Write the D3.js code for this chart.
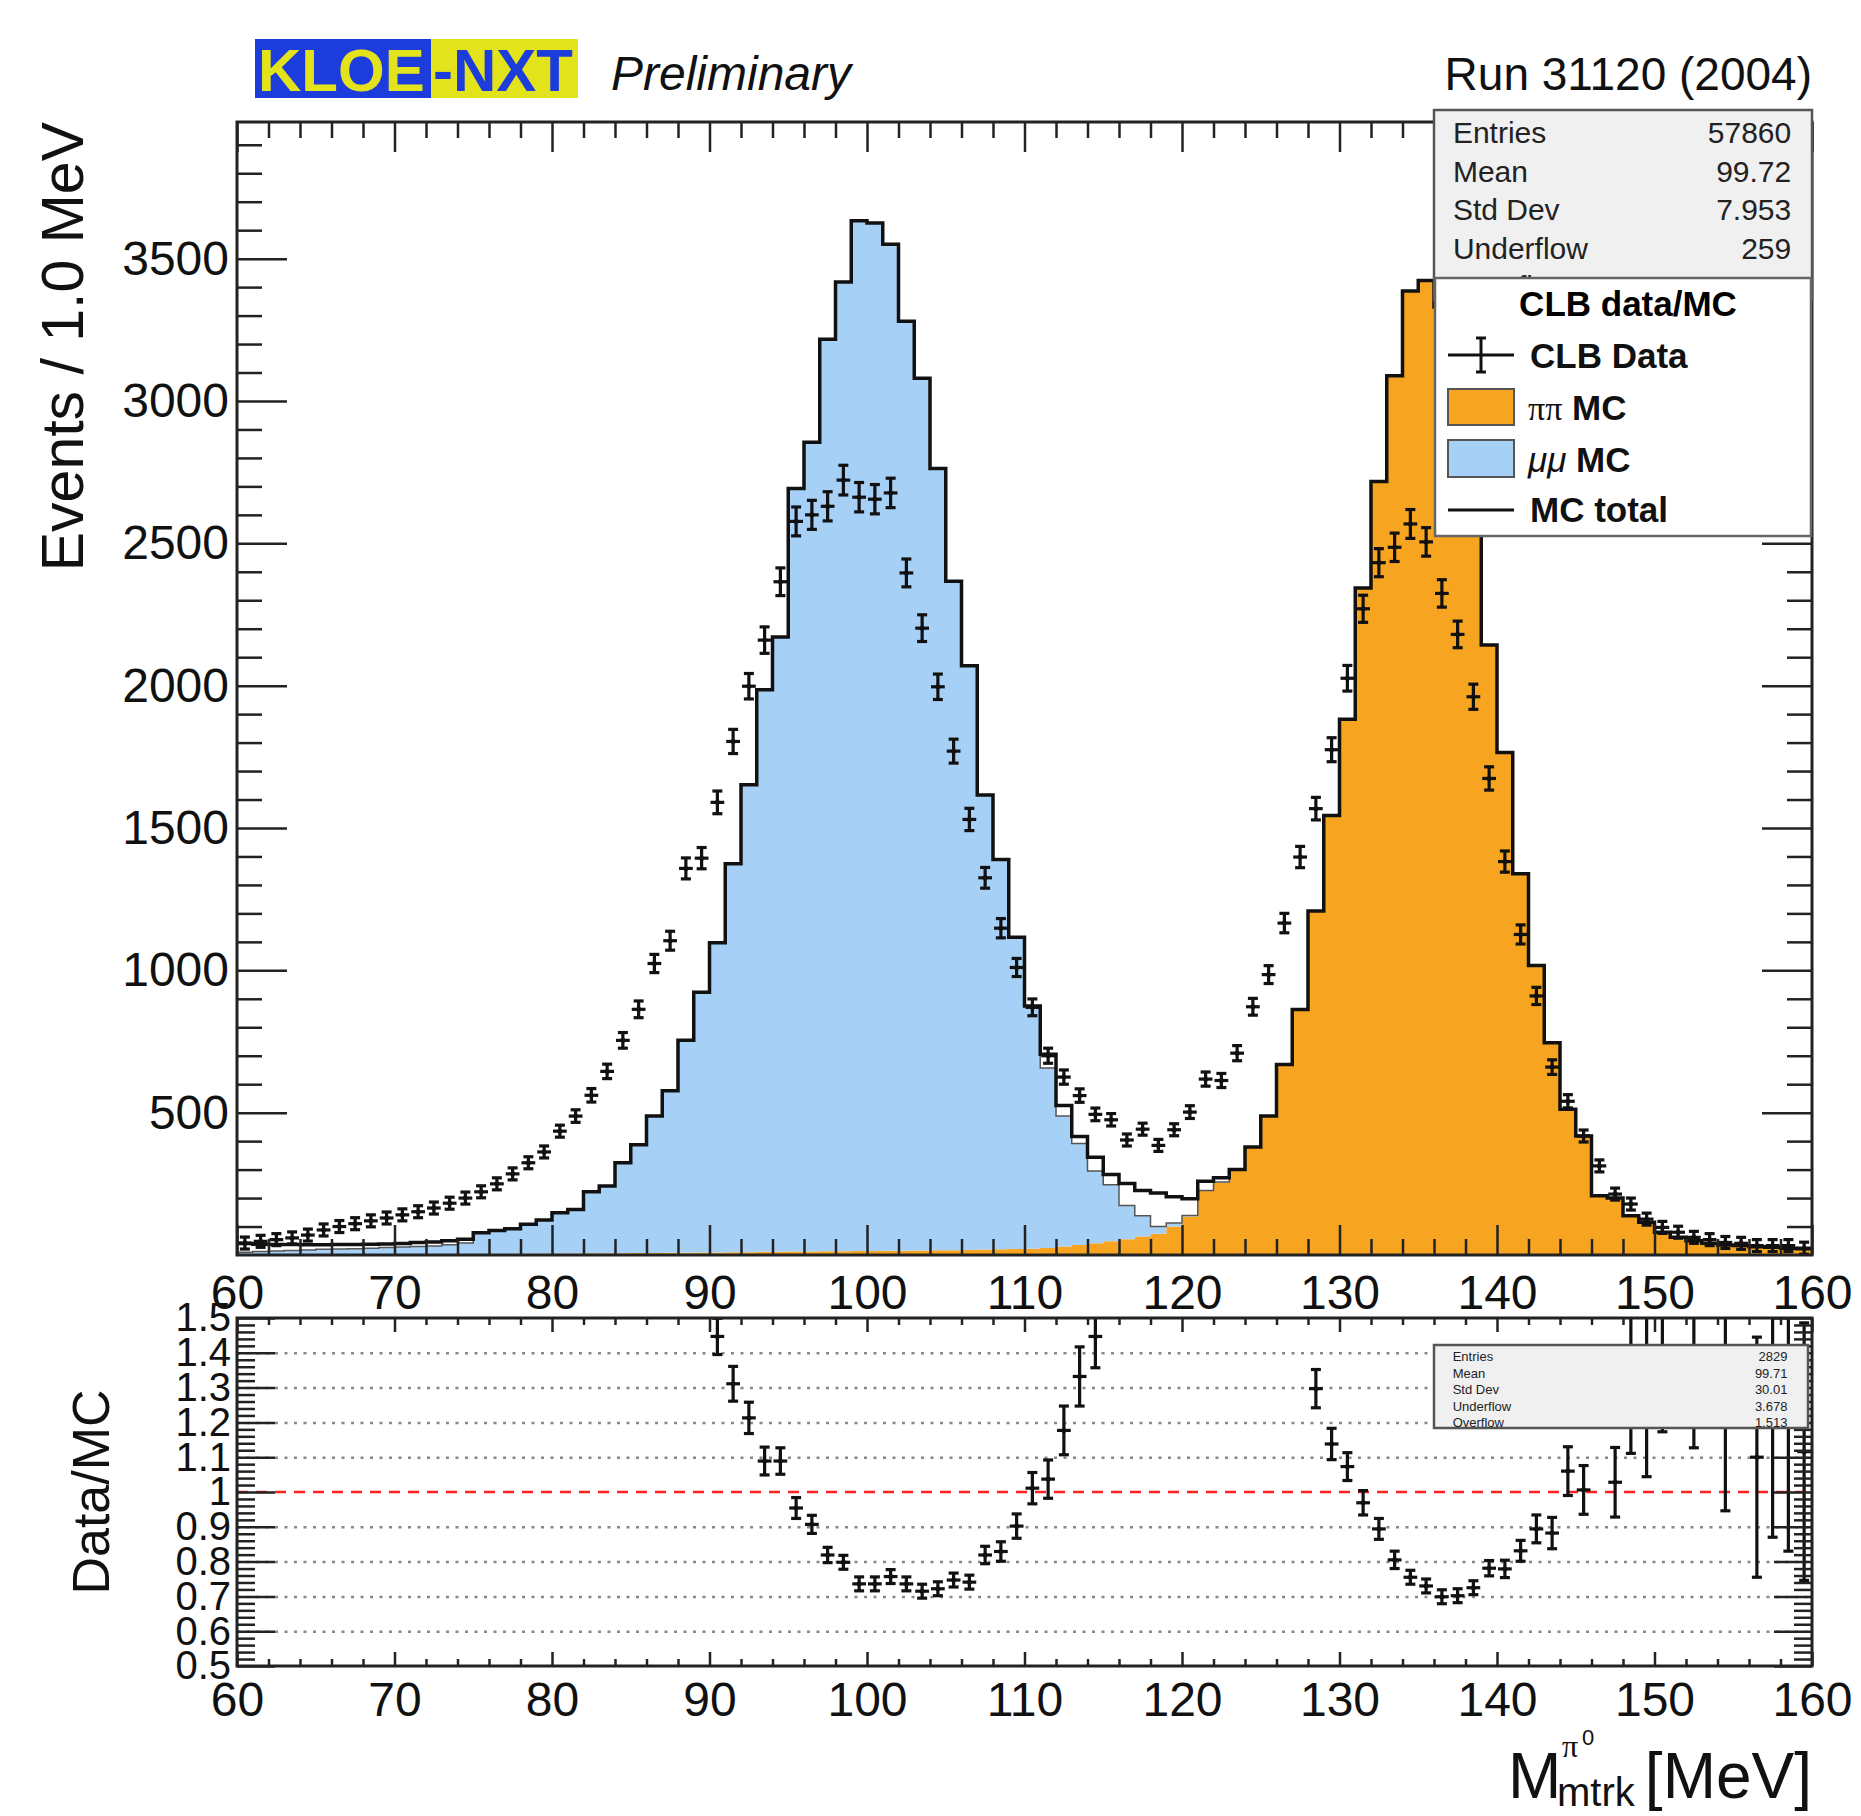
<!DOCTYPE html>
<html>
<head>
<meta charset="utf-8">
<script src="https://cdn.jsdelivr.net/npm/d3@7"></script>
<style>
  body { margin: 0; background: #fff; }
  svg { display: block; font-family: "Liberation Sans", Arial, Helvetica, sans-serif; }
</style>
</head>
<body>
<svg id="chart" width="1861" height="1816"></svg>
<script>
// bin lower edges, 1 MeV bins from 60 to 160
const binLow = d3.range(60, 160);

// CLB data, events per bin (60..159)
const dataCounts = [
  42, 48, 54, 60, 70, 88, 100, 110, 120, 130,
  141, 152, 165, 182, 200, 222, 250, 285, 324, 362,
  435, 488, 561, 645, 754, 863, 1024, 1104, 1358, 1394,
  1590, 1804, 1998, 2160, 2365, 2577, 2600, 2630, 2722, 2662,
  2655, 2677, 2396, 2202, 1996, 1770, 1530, 1325, 1148, 1010,
  870, 700, 625, 560, 494, 475, 404, 442, 385, 440,
  502, 618, 613, 709, 872, 985, 1166, 1398, 1568, 1775,
  2026, 2270, 2432, 2486, 2568, 2505, 2324, 2180, 1961, 1674,
  1382, 1126, 910, 660, 540, 418, 313, 214, 179, 126,
  97, 80, 62, 54, 44, 41, 33, 33, 33, 24
];

// pi pi MC (bottom of the stack)
const pipiMC = [
  0, 0, 1, 1, 1, 1, 1, 2, 2, 2,
  2, 2, 3, 3, 3, 3, 4, 4, 4, 5,
  5, 5, 6, 6, 6, 7, 7, 8, 8, 9,
  9, 10, 10, 11, 11, 12, 12, 13, 13, 14,
  14, 15, 15, 16, 17, 17, 18, 19, 20, 21,
  22, 25, 30, 35, 41, 48, 55, 65, 75, 100,
  135, 225, 255, 300, 379, 488, 669, 862, 1208, 1544,
  1882, 2343, 2717, 3089, 3386, 3423, 3330, 3150, 2680, 2143,
  1765, 1339, 1017, 746, 512, 418, 208, 200, 138, 115,
  80, 62, 50, 41, 35, 33, 29, 27, 24, 22
];

// mu mu MC (stacked on top)
const mumuMC = [
  10, 12, 13, 15, 17, 19, 20, 20, 22, 24,
  26, 28, 29, 33, 39, 75, 82, 88, 104, 118,
  143, 155, 216, 236, 318, 380, 481, 569, 746, 914,
  1088, 1364, 1642, 1975, 2160, 2681, 2843, 3204, 3405, 3619,
  3611, 3536, 3265, 3064, 2746, 2350, 2052, 1597, 1369, 1095,
  853, 632, 458, 357, 254, 199, 119, 73, 25, 12,
  4, 2, 1, 1, 0, 0, 0, 0, 0, 0,
  0, 0, 0, 0, 0, 0, 0, 0, 0, 0,
  0, 0, 0, 0, 0, 0, 0, 0, 0, 0,
  0, 0, 0, 0, 0, 0, 0, 0, 0, 0
];

// MC total outline
const mcTotal = [
  40, 38, 37, 37, 36, 36, 37, 37, 38, 39,
  40, 44, 46, 50, 55, 78, 86, 92, 108, 123,
  148, 160, 222, 242, 324, 387, 488, 577, 754, 923,
  1097, 1374, 1652, 1986, 2171, 2693, 2855, 3217, 3418, 3633,
  3625, 3551, 3280, 3080, 2763, 2367, 2070, 1616, 1389, 1116,
  875, 705, 525, 416, 343, 283, 251, 227, 218, 205,
  198, 259, 271, 300, 379, 488, 669, 862, 1208, 1544,
  1882, 2343, 2717, 3089, 3386, 3423, 3330, 3150, 2680, 2143,
  1765, 1339, 1017, 746, 512, 418, 208, 200, 138, 115,
  80, 62, 50, 41, 35, 33, 29, 27, 24, 22
];

// Data/MC ratio as drawn in the lower pad (null = not shown)
const N = null;
const ratioVals = [
  N, N, N, N, N, N, N, N, N, N,
  N, N, N, N, N, N, N, N, N, N,
  N, N, N, N, N, N, N, N, N, N,
  1.447, 1.311, 1.213, 1.089, 1.089, 0.954, 0.907, 0.819, 0.798, 0.736,
  0.736, 0.757, 0.736, 0.715, 0.722, 0.747, 0.741, 0.819, 0.829, 0.902,
  1.011, 1.037, 1.177, 1.332, 1.447, N, N, N, N, N,
  N, N, N, N, N, N, N, N, 1.297, 1.138,
  1.073, 0.969, 0.894, 0.805, 0.755, 0.730, 0.699, 0.702, 0.725, 0.781,
  0.779, 0.831, 0.894, 0.882, 1.060, 1.006, N, 1.028, 1.6, 1.6,
  1.6, N, 1.6, N, 1.6, N, 1.10, 1.30, 1.25, 1.116
];
const ratioErrs = [
  0, 0, 0, 0, 0, 0, 0, 0, 0, 0,
  0, 0, 0, 0, 0, 0, 0, 0, 0, 0,
  0, 0, 0, 0, 0, 0, 0, 0, 0, 0,
  0.052, 0.05, 0.045, 0.04, 0.038, 0.03, 0.026, 0.022, 0.02, 0.02,
  0.02, 0.02, 0.02, 0.02, 0.02, 0.02, 0.02, 0.025, 0.028, 0.035,
  0.045, 0.055, 0.07, 0.085, 0.09, 0, 0, 0, 0, 0,
  0, 0, 0, 0, 0, 0, 0, 0, 0.055, 0.045,
  0.04, 0.035, 0.03, 0.025, 0.02, 0.02, 0.02, 0.02, 0.02, 0.022,
  0.025, 0.03, 0.04, 0.045, 0.07, 0.07, 0, 0.1, 0.489, 0.556,
  0.427, 0, 0.473, 0, 0.654, 0, 0.345, 0.43, 0.42, 0.37
];

const xMajor = [60, 70, 80, 90, 100, 110, 120, 130, 140, 150, 160];
const yMajor = [500, 1000, 1500, 2000, 2500, 3000, 3500];
const rMajor = [0.5, 0.6, 0.7, 0.8, 0.9, 1.0, 1.1, 1.2, 1.3, 1.4, 1.5];
const rGrid = [0.6, 0.7, 0.8, 0.9, 1.1, 1.2, 1.3, 1.4];

const statsMain = [["Entries", "57860"], ["Mean", "99.72"], ["Std Dev", "7.953"], ["Underflow", "259"], ["Overflow", "50"]];
const statsRatio = [["Entries", "2829"], ["Mean", "99.71"], ["Std Dev", "30.01"], ["Underflow", "3.678"], ["Overflow", "1.513"]];

const ORANGE = "#f7a521", BLUE = "#a7d0f6";

const svg = d3.select("#chart");
const mainBox = { l: 237, r: 1812, t: 122, b: 1255 };
const ratioBox = { l: 237, r: 1812, t: 1318, b: 1666 };

const x = d3.scaleLinear().domain([60, 160]).range([mainBox.l, mainBox.r]);
const y = d3.scaleLinear().domain([0, 3980]).range([mainBox.b, mainBox.t]);
const yr = d3.scaleLinear().domain([0.5, 1.5]).range([ratioBox.b, ratioBox.t]);

const defs = svg.append("defs");
defs.append("clipPath").attr("id", "clipMain").append("rect")
  .attr("x", mainBox.l).attr("y", mainBox.t).attr("width", mainBox.r - mainBox.l).attr("height", mainBox.b - mainBox.t);
defs.append("clipPath").attr("id", "clipRatio").append("rect")
  .attr("x", ratioBox.l).attr("y", ratioBox.t).attr("width", ratioBox.r - ratioBox.l).attr("height", ratioBox.b - ratioBox.t);

// ---------- main pad ----------
const rows = binLow.map((b, i) => ({ bin: b, pipi: pipiMC[i], mumu: mumuMC[i], tot: mcTotal[i] }));
rows.push(Object.assign({}, rows[rows.length - 1], { bin: 160 }));

const layers = d3.stack().keys(["pipi", "mumu"])(rows);
const area = d3.area().curve(d3.curveStepAfter)
  .x(d => x(d.data.bin)).y0(d => y(d[0])).y1(d => y(d[1]));

const plot = svg.append("g").attr("clip-path", "url(#clipMain)");
plot.selectAll("path.layer").data(layers).enter().append("path")
  .attr("class", "layer")
  .attr("d", area)
  .attr("fill", d => d.key === "pipi" ? ORANGE : BLUE);

// stack outline
plot.append("path")
  .attr("d", d3.line().curve(d3.curveStepAfter).x(d => x(d.data.bin)).y(d => y(d[1]))(layers[1]))
  .attr("fill", "none").attr("stroke", "#555").attr("stroke-width", 1.5);

// MC total
plot.append("path")
  .attr("d", d3.line().curve(d3.curveStepAfter).x(d => x(d.bin)).y(d => y(d.tot))(rows))
  .attr("fill", "none").attr("stroke", "#111").attr("stroke-width", 3.5);

// data points with error bars
function drawPoints(g, vals, errs, xs, ys, cap) {
  const pts = g.selectAll("g.pt").data(binLow.map((b, i) => ({ b, v: vals[i], e: errs(i) })).filter(d => d.v !== null))
    .enter().append("g").attr("class", "pt")
    .attr("stroke", "#111").attr("stroke-width", 3.2);
  pts.append("line")
    .attr("x1", d => xs(d.b) + 1).attr("x2", d => xs(d.b + 1) - 1)
    .attr("y1", d => ys(d.v)).attr("y2", d => ys(d.v));
  pts.append("line")
    .attr("x1", d => xs(d.b + 0.5)).attr("x2", d => xs(d.b + 0.5))
    .attr("y1", d => ys(d.v) + Math.max(ys(d.v - d.e) - ys(d.v), 6))
    .attr("y2", d => ys(d.v) - Math.max(ys(d.v) - ys(d.v + d.e), 6));
  pts.append("line")
    .attr("x1", d => xs(d.b + 0.5) - cap).attr("x2", d => xs(d.b + 0.5) + cap)
    .attr("y1", d => ys(d.v) + Math.max(ys(d.v - d.e) - ys(d.v), 6))
    .attr("y2", d => ys(d.v) + Math.max(ys(d.v - d.e) - ys(d.v), 6));
  pts.append("line")
    .attr("x1", d => xs(d.b + 0.5) - cap).attr("x2", d => xs(d.b + 0.5) + cap)
    .attr("y1", d => ys(d.v) - Math.max(ys(d.v) - ys(d.v + d.e), 6))
    .attr("y2", d => ys(d.v) - Math.max(ys(d.v) - ys(d.v + d.e), 6));
  pts.append("circle")
    .attr("cx", d => xs(d.b + 0.5)).attr("cy", d => ys(d.v)).attr("r", 2.5)
    .attr("fill", "#111").attr("stroke", "none");
}
drawPoints(plot.append("g"), dataCounts, i => Math.sqrt(dataCounts[i]), x, y, 5);

// ticks
function ticks(g, gen) {
  g.call(gen);
  g.select(".domain").remove();
  g.selectAll(".tick line").attr("stroke", "#222").attr("stroke-width", 2.5);
  g.selectAll(".tick text").remove();
}
const xMinor = d3.range(60, 161, 2).filter(v => v % 10 !== 0);
const yMinor = d3.range(100, 3980, 100).filter(v => v % 500 !== 0);
ticks(svg.append("g").attr("transform", `translate(0,${mainBox.b})`), d3.axisBottom(x).tickValues(xMajor).tickSize(-30));
ticks(svg.append("g").attr("transform", `translate(0,${mainBox.b})`), d3.axisBottom(x).tickValues(xMinor).tickSize(-16));
ticks(svg.append("g").attr("transform", `translate(0,${mainBox.t})`), d3.axisTop(x).tickValues(xMajor).tickSize(-30));
ticks(svg.append("g").attr("transform", `translate(0,${mainBox.t})`), d3.axisTop(x).tickValues(xMinor).tickSize(-16));
ticks(svg.append("g").attr("transform", `translate(${mainBox.l},0)`), d3.axisLeft(y).tickValues(yMajor).tickSize(-50));
ticks(svg.append("g").attr("transform", `translate(${mainBox.l},0)`), d3.axisLeft(y).tickValues(yMinor).tickSize(-25));
ticks(svg.append("g").attr("transform", `translate(${mainBox.r},0)`), d3.axisRight(y).tickValues(yMajor).tickSize(-50));
ticks(svg.append("g").attr("transform", `translate(${mainBox.r},0)`), d3.axisRight(y).tickValues(yMinor).tickSize(-25));

svg.append("rect").attr("x", mainBox.l).attr("y", mainBox.t)
  .attr("width", mainBox.r - mainBox.l).attr("height", mainBox.b - mainBox.t)
  .attr("fill", "none").attr("stroke", "#222").attr("stroke-width", 3);

// labels
function labels(g, gen, size) {
  g.call(gen);
  g.select(".domain").remove();
  g.selectAll(".tick line").remove();
  g.selectAll(".tick text").attr("font-size", size).attr("font-family", null).attr("fill", "#111");
}
labels(svg.append("g").attr("transform", `translate(0,${mainBox.b})`),
  d3.axisBottom(x).tickValues(xMajor).tickSize(0).tickPadding(20), 48);
labels(svg.append("g").attr("transform", `translate(${mainBox.l - 2},0)`),
  d3.axisLeft(y).tickValues(yMajor).tickSize(0).tickPadding(6).tickFormat(d3.format("d")), 48);

// ---------- ratio pad ----------
const rg = svg.append("g");
rg.append("g").attr("transform", `translate(${ratioBox.l},0)`)
  .call(d3.axisLeft(yr).tickValues(rGrid).tickSize(-(ratioBox.r - ratioBox.l)).tickFormat(""))
  .call(g => g.select(".domain").remove())
  .selectAll(".tick line").attr("stroke", "#888").attr("stroke-width", 2.5).attr("stroke-dasharray", "3,6.5");
rg.append("line")
  .attr("x1", ratioBox.l).attr("x2", ratioBox.r).attr("y1", yr(1)).attr("y2", yr(1))
  .attr("stroke", "#ff2020").attr("stroke-width", 2.5).attr("stroke-dasharray", "11,8");

const rplot = svg.append("g").attr("clip-path", "url(#clipRatio)");
drawPoints(rplot, ratioVals, i => ratioErrs[i], x, yr, 5);

const rMinor = d3.range(0.52, 1.5, 0.02).filter(v => Math.abs(v * 10 - Math.round(v * 10)) > 0.01);
ticks(svg.append("g").attr("transform", `translate(0,${ratioBox.b})`), d3.axisBottom(x).tickValues(xMajor).tickSize(-14));
ticks(svg.append("g").attr("transform", `translate(0,${ratioBox.b})`), d3.axisBottom(x).tickValues(xMinor).tickSize(-7));
ticks(svg.append("g").attr("transform", `translate(0,${ratioBox.t})`), d3.axisTop(x).tickValues(xMajor).tickSize(-14));
ticks(svg.append("g").attr("transform", `translate(0,${ratioBox.t})`), d3.axisTop(x).tickValues(xMinor).tickSize(-7));
ticks(svg.append("g").attr("transform", `translate(${ratioBox.l},0)`), d3.axisLeft(yr).tickValues(rMajor).tickSize(-38));
ticks(svg.append("g").attr("transform", `translate(${ratioBox.l},0)`), d3.axisLeft(yr).tickValues(rMinor).tickSize(-18));
ticks(svg.append("g").attr("transform", `translate(${ratioBox.r},0)`), d3.axisRight(yr).tickValues(rMajor).tickSize(-38));
ticks(svg.append("g").attr("transform", `translate(${ratioBox.r},0)`), d3.axisRight(yr).tickValues(rMinor).tickSize(-18));

svg.append("rect").attr("x", ratioBox.l).attr("y", ratioBox.t)
  .attr("width", ratioBox.r - ratioBox.l).attr("height", ratioBox.b - ratioBox.t)
  .attr("fill", "none").attr("stroke", "#222").attr("stroke-width", 3);

labels(svg.append("g").attr("transform", `translate(0,${ratioBox.b})`),
  d3.axisBottom(x).tickValues(xMajor).tickSize(0).tickPadding(16), 48);
labels(svg.append("g").attr("transform", `translate(${ratioBox.l - 2},0)`),
  d3.axisLeft(yr).tickValues(rMajor).tickSize(0).tickPadding(4).tickFormat(d => d === 1 ? "1" : d3.format(".1f")(d)), 40);

// ---------- stats boxes ----------
function statsBox(bx, by, bw, bh, rowsTxt, size, rowStep, firstBase, clipId, clipH) {
  const g = svg.append("g");
  g.append("rect").attr("x", bx).attr("y", by).attr("width", bw).attr("height", bh)
    .attr("fill", "#f0f0f0").attr("stroke", "#555").attr("stroke-width", 2.5);
  defs.append("clipPath").attr("id", clipId).append("rect")
    .attr("x", bx).attr("y", by).attr("width", bw).attr("height", clipH);
  const t = g.append("g").attr("clip-path", `url(#${clipId})`).attr("font-size", size).attr("fill", "#222");
  rowsTxt.forEach((r, i) => {
    t.append("text").attr("x", bx + bw * 0.05).attr("y", firstBase + i * rowStep).text(r[0]);
    t.append("text").attr("x", bx + bw * 0.945).attr("y", firstBase + i * rowStep).attr("text-anchor", "end").text(r[1]);
  });
}
statsBox(1434, 110, 378, 190, statsMain, 30, 38.5, 143, "clipStatsMain", 168);
statsBox(1434, 1345, 374, 83, statsRatio, 13, 16.5, 1361, "clipStatsRatio", 83);

// ---------- legend ----------
const lg = svg.append("g");
lg.append("rect").attr("x", 1435).attr("y", 278).attr("width", 376).attr("height", 258)
  .attr("fill", "#fff").attr("stroke", "#666").attr("stroke-width", 2.5);
lg.append("text").attr("x", 1628).attr("y", 316).attr("text-anchor", "middle")
  .attr("font-size", 35).attr("font-weight", "bold").text("CLB data/MC");
const sym = lg.append("g").attr("stroke", "#111").attr("stroke-width", 3);
sym.append("line").attr("x1", 1448).attr("x2", 1514).attr("y1", 355).attr("y2", 355);
sym.append("line").attr("x1", 1481).attr("x2", 1481).attr("y1", 338).attr("y2", 372);
sym.append("line").attr("x1", 1476).attr("x2", 1486).attr("y1", 338).attr("y2", 338);
sym.append("line").attr("x1", 1476).attr("x2", 1486).attr("y1", 372).attr("y2", 372);
lg.append("rect").attr("x", 1448).attr("y", 389).attr("width", 66).attr("height", 36)
  .attr("fill", ORANGE).attr("stroke", "#555").attr("stroke-width", 2);
lg.append("rect").attr("x", 1448).attr("y", 440).attr("width", 66).attr("height", 37)
  .attr("fill", BLUE).attr("stroke", "#555").attr("stroke-width", 2);
sym.append("line").attr("x1", 1448).attr("x2", 1514).attr("y1", 510).attr("y2", 510);

const lt = lg.append("g").attr("font-size", 35).attr("font-weight", "bold").attr("fill", "#111");
lt.append("text").attr("x", 1530).attr("y", 368).text("CLB Data");
const t2 = lt.append("text").attr("x", 1528).attr("y", 420);
t2.append("tspan").attr("font-family", "'Liberation Serif', serif").attr("font-weight", "normal").attr("font-size", 34).text("ππ");
t2.append("tspan").text(" MC");
const t3 = lt.append("text").attr("x", 1528).attr("y", 472);
t3.append("tspan").attr("font-style", "italic").attr("font-weight", "normal").text("μμ");
t3.append("tspan").text(" MC");
lt.append("text").attr("x", 1530).attr("y", 522).text("MC total");

// ---------- header ----------
svg.append("rect").attr("x", 255).attr("y", 39).attr("width", 176).attr("height", 59).attr("fill", "#1c3ddc");
svg.append("rect").attr("x", 431).attr("y", 39).attr("width", 147).attr("height", 59).attr("fill", "#e3e31c");
svg.append("text").attr("x", 258).attr("y", 91).attr("font-size", 60).attr("font-weight", "bold")
  .attr("fill", "#e3e31c").text("KLOE");
svg.append("text").attr("x", 433).attr("y", 91).attr("font-size", 60).attr("font-weight", "bold")
  .attr("fill", "#1c3ddc").text("-NXT");
svg.append("text").attr("x", 611).attr("y", 90).attr("font-size", 48).attr("font-style", "italic")
  .attr("fill", "#111").text("Preliminary");
svg.append("text").attr("x", 1812).attr("y", 90).attr("font-size", 46).attr("text-anchor", "end")
  .attr("fill", "#111").text("Run 31120 (2004)");

// ---------- axis titles ----------
svg.append("text").attr("transform", `translate(83,${mainBox.t}) rotate(-90)`)
  .attr("text-anchor", "end").attr("font-size", 59).attr("fill", "#111").text("Events / 1.0 MeV");
svg.append("text").attr("transform", `translate(109,${(ratioBox.t + ratioBox.b) / 2}) rotate(-90)`)
  .attr("text-anchor", "middle").attr("font-size", 52).attr("fill", "#111").text("Data/MC");

const xt = svg.append("g").attr("fill", "#111");
xt.append("text").attr("x", 1508).attr("y", 1798).attr("font-size", 64).text("M");
xt.append("text").attr("x", 1557).attr("y", 1806).attr("font-size", 40).text("mtrk");
xt.append("text").attr("x", 1562).attr("y", 1757).attr("font-size", 32).attr("font-family", "'Liberation Serif', serif").text("π");
xt.append("text").attr("x", 1582).attr("y", 1745).attr("font-size", 22).text("0");
xt.append("text").attr("x", 1812).attr("y", 1798).attr("font-size", 64).attr("text-anchor", "end").text("[MeV]");
</script>
</body>
</html>
